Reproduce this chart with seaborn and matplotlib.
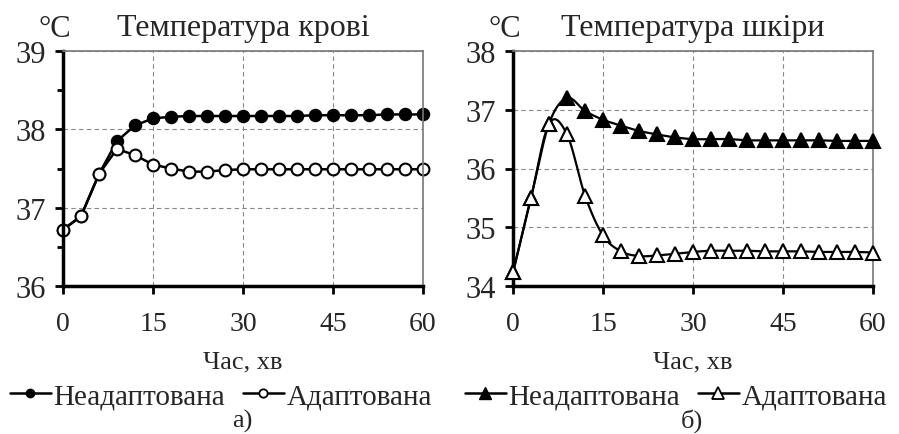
import numpy as np
import matplotlib
matplotlib.use("Agg")
import matplotlib.pyplot as plt
from matplotlib.lines import Line2D
from matplotlib.ticker import MultipleLocator
import seaborn as sns

# час, хв
time_min = [0, 3, 6, 9, 12, 15, 18, 21, 24, 27, 30, 33, 36, 39, 42, 45, 48, 51, 54, 57, 60]

# температура крові
blood_nonadapted = [36.72, 36.89, 37.43, 37.85, 38.05, 38.14, 38.16, 38.17, 38.17, 38.17, 38.17,
                    38.17, 38.17, 38.17, 38.18, 38.18, 38.18, 38.18, 38.19, 38.19, 38.19]
blood_adapted = [36.72, 36.89, 37.43, 37.75, 37.67, 37.55, 37.50, 37.46, 37.46, 37.48, 37.49,
                 37.49, 37.49, 37.49, 37.49, 37.49, 37.49, 37.49, 37.49, 37.49, 37.49]

# температура шкіри
skin_nonadapted = [34.23, 35.50, 36.76, 37.20, 36.98, 36.83, 36.73, 36.64, 36.58, 36.53, 36.50,
                   36.50, 36.50, 36.48, 36.48, 36.48, 36.48, 36.48, 36.47, 36.47, 36.47]
skin_adapted = [34.23, 35.50, 36.76, 36.58, 35.54, 34.86, 34.59, 34.51, 34.52, 34.55, 34.58,
                34.60, 34.60, 34.60, 34.59, 34.59, 34.59, 34.58, 34.58, 34.58, 34.57]

label_non = "Неадаптована"
label_ad = "Адаптована"


def smooth(x, y, n=20):
    """Catmull-Rom curve through the points (like Excel smoothed line)."""
    x = np.asarray(x, float)
    y = np.asarray(y, float)
    px = np.concatenate([[x[0]], x, [x[-1]]])
    py = np.concatenate([[y[0]], y, [y[-1]]])
    xs, ys = [], []
    t = np.linspace(0, 1, n, endpoint=False)
    for i in range(1, len(px) - 2):
        for arr, out in ((px, xs), (py, ys)):
            p0, p1, p2, p3 = arr[i - 1], arr[i], arr[i + 1], arr[i + 2]
            out.extend(0.5 * ((2 * p1) + (-p0 + p2) * t + (2 * p0 - 5 * p1 + 4 * p2 - p3) * t ** 2
                              + (-p0 + 3 * p1 - 3 * p2 + p3) * t ** 3))
    xs.append(x[-1])
    ys.append(y[-1])
    return xs, ys


sns.set_style("white")
plt.rcParams['font.family'] = ['Liberation Serif', 'DejaVu Serif']

fig = plt.figure(figsize=(8.99, 4.35), dpi=100)
ax1 = fig.add_axes([63 / 899, 1 - 287 / 435, 360 / 899, 235 / 435])
ax2 = fig.add_axes([513 / 899, 1 - 287 / 435, 360 / 899, 235 / 435])


def style_axes(ax, ylo, yhi, minor):
    ax.set_xlim(0, 60)
    ax.set_ylim(ylo, yhi)
    ax.xaxis.set_major_locator(MultipleLocator(15))
    ax.yaxis.set_major_locator(MultipleLocator(1))
    if minor:
        ax.yaxis.set_minor_locator(MultipleLocator(0.5))
    ax.grid(True, which='major', color='#888888', linestyle=(0, (4, 3)), linewidth=0.8)
    for s in ('left', 'bottom'):
        ax.spines[s].set_color('black')
        ax.spines[s].set_linewidth(2.5)
    for s in ('top', 'right'):
        ax.spines[s].set_color('#777777')
        ax.spines[s].set_linewidth(1.2)
    ax.tick_params(axis='both', which='major', direction='out', length=6, width=2,
                   color='black', left=True, bottom=True)
    ax.tick_params(axis='x', labelsize=20, pad=12)
    ax.tick_params(axis='y', labelsize=22, pad=6)
    ax.tick_params(axis='y', which='minor', direction='out', length=4, width=2,
                   color='black', left=True)
    ax.set_xlabel("Час, хв", fontsize=19)
    ax.xaxis.set_label_coords(0.5, -(362 - 287) / 235)
    ax.xaxis.label.set_va('center')
    ax.set_ylabel("")


# а) кров
sns.lineplot(x=time_min, y=blood_nonadapted, ax=ax1, color='black', linewidth=1.8,
             marker='o', markersize=8.5, markerfacecolor='black', markeredgecolor='black',
             markeredgewidth=1.2)
sns.lineplot(x=time_min, y=blood_adapted, ax=ax1, color='black', linewidth=1.8,
             marker='o', markersize=8.5, markerfacecolor='white', markeredgecolor='black',
             markeredgewidth=1.5)
style_axes(ax1, 36, 39, True)

# б) шкіра
for vals, fc in ((skin_nonadapted, 'black'), (skin_adapted, 'white')):
    sx, sy = smooth(time_min, vals)
    ax2.plot(sx, sy, color='black', linewidth=1.6, zorder=2)
    sns.lineplot(x=time_min, y=vals, ax=ax2, linestyle='', marker='^', markersize=9.5,
                 markerfacecolor=fc, markeredgecolor='black', markeredgewidth=1.5, zorder=3)
style_axes(ax2, 34, 38, False)

for ax in (ax1, ax2):
    for ln in ax.lines:
        ln.set_clip_on(False)

ax1.text(0.5, 1.04, "Температура крові", transform=ax1.transAxes, ha='center', va='bottom', fontsize=23)
ax2.text(0.5, 1.04, "Температура шкіри", transform=ax2.transAxes, ha='center', va='bottom', fontsize=23)
fig.text(38 / 899, 1 - 44 / 435, "°C", ha='left', va='bottom', fontsize=22)
fig.text(488 / 899, 1 - 44 / 435, "°C", ha='left', va='bottom', fontsize=22)

h1 = [Line2D([], [], color='black', lw=1.8, marker='o', ms=6, mfc='black', mec='black'),
      Line2D([], [], color='black', lw=1.8, marker='o', ms=6, mfc='white', mec='black', mew=1.3)]
h2 = [Line2D([], [], color='black', lw=1.8, marker='^', ms=8, mfc='black', mec='black'),
      Line2D([], [], color='black', lw=1.8, marker='^', ms=8, mfc='white', mec='black', mew=1.3)]
leg_kw = dict(loc='center', bbox_transform=fig.transFigure, ncol=2, frameon=False, fontsize=21,
              handlelength=1.4, handletextpad=0.1, columnspacing=0.6, borderaxespad=0, borderpad=0)
ax1.legend(h1, [label_non, label_ad], bbox_to_anchor=(221 / 899, 1 - 397 / 435), **leg_kw)
ax2.legend(h2, [label_non, label_ad], bbox_to_anchor=(676 / 899, 1 - 397 / 435), **leg_kw)

fig.text(242 / 899, 1 - 421 / 435, "а)", ha='center', va='center', fontsize=19)
fig.text(692 / 899, 1 - 421 / 435, "б)", ha='center', va='center', fontsize=19)

fig.savefig("out.png", dpi=100)
